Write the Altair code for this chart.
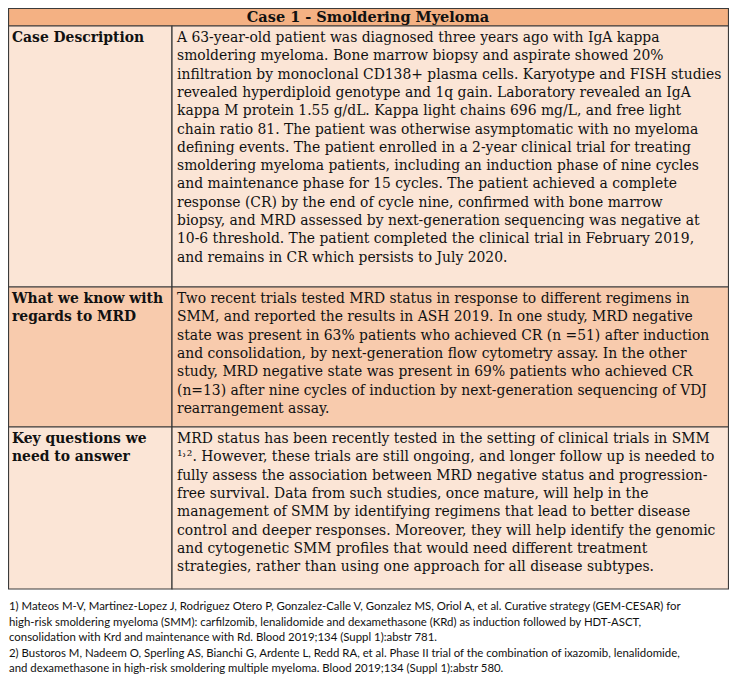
import altair as alt
import pandas as pd

# ---------------- content ----------------
header_title = "Case 1 - Smoldering Myeloma"

row_labels = [
    ["Case Description"],
    ["What we know with", "regards to MRD"],
    ["Key questions we", "need to answer"],
]

row1_lines = [
    "A 63-year-old patient was diagnosed three years ago with IgA kappa",
    "smoldering myeloma. Bone marrow biopsy and aspirate showed 20%",
    "infiltration by monoclonal CD138+ plasma cells. Karyotype and FISH studies",
    "revealed  hyperdiploid genotype and 1q gain. Laboratory revealed an IgA",
    "kappa M protein 1.55 g/dL. Kappa light chains 696 mg/L, and free light",
    "chain ratio 81. The patient was otherwise asymptomatic with no myeloma",
    "defining events. The patient enrolled in a 2-year clinical trial for treating",
    "smoldering myeloma patients, including an induction phase of nine cycles",
    "and maintenance phase for 15 cycles. The patient achieved a complete",
    "response (CR) by the end of cycle nine, confirmed with bone marrow",
    "biopsy, and MRD assessed by next-generation sequencing was negative at",
    "10-6 threshold. The patient completed the clinical trial in February 2019,",
    "and remains in CR which persists to July 2020.",
]

row2_lines = [
    "Two recent trials tested MRD status in response to different regimens in",
    "SMM, and reported the results in ASH 2019. In one study, MRD negative",
    "state was present in 63% patients who achieved CR (n =51) after induction",
    "and consolidation, by next-generation flow cytometry assay. In the other",
    "study, MRD negative state was present in 69% patients who achieved CR",
    "(n=13) after nine cycles of induction by next-generation sequencing of VDJ",
    "rearrangement assay.",
]

row3_lines = [
    "MRD status has been recently tested in the setting of clinical trials in SMM",
    "¹˒². However, these trials are still ongoing, and longer follow up is needed to",
    "fully assess the association between MRD negative status and progression-",
    "free survival. Data from such studies, once mature, will help in the",
    "management of SMM by identifying regimens that lead to better disease",
    "control and deeper responses. Moreover, they will help identify the genomic",
    "and cytogenetic SMM profiles that would need different treatment",
    "strategies, rather than using one approach for all disease subtypes.",
]

footnote_lines = [
    "1) Mateos M-V, Martinez-Lopez J, Rodriguez Otero P, Gonzalez-Calle V, Gonzalez MS, Oriol A, et al. Curative strategy (GEM-CESAR) for",
    "high-risk smoldering myeloma (SMM): carfilzomib, lenalidomide and dexamethasone (KRd) as induction followed by HDT-ASCT,",
    "consolidation with Krd and maintenance with Rd. Blood 2019;134 (Suppl 1):abstr 781.",
    "2) Bustoros M, Nadeem O, Sperling AS, Bianchi G, Ardente L, Redd RA, et al. Phase II trial of the combination of ixazomib, lenalidomide,",
    "and dexamethasone in high-risk smoldering multiple myeloma. Blood 2019;134 (Suppl 1):abstr 580.",
]

# ---------------- layout (page pixel frame) ----------------
X0, XC, X1 = 8.5, 172, 728.5
Y_TOP, Y_HEAD = 8.5, 26
ROW_EDGES = [26, 287, 427, 589]
LINE_H = 18.3
FIRST_OFF = 12
FOOT_Y0, FOOT_H = 607, 15.5

HEAD_FILL = "#F4B183"
ROW_FILLS = ["#FBE5D6", "#F8CBAD", "#FBE5D6"]
BORDER = "#3b3b3b"
INK = "#111111"

# ---------------- tables ----------------
cells = [dict(x=X0, x2=X1, y=Y_TOP, y2=Y_HEAD, fill=HEAD_FILL)]
for i, f in enumerate(ROW_FILLS):
    cells.append(dict(x=X0, x2=XC, y=ROW_EDGES[i], y2=ROW_EDGES[i + 1], fill=f))
    cells.append(dict(x=XC, x2=X1, y=ROW_EDGES[i], y2=ROW_EDGES[i + 1], fill=f))
cells_df = pd.DataFrame(cells)

body_rows = [row1_lines, row2_lines, row3_lines]
body = []
labels = []
for i, lines in enumerate(body_rows):
    top = ROW_EDGES[i] + FIRST_OFF
    for j, t in enumerate(lines):
        body.append(dict(x=177, y=top + j * LINE_H, text=t))
    for j, t in enumerate(row_labels[i]):
        labels.append(dict(x=12, y=top + j * LINE_H, text=t))
body_df = pd.DataFrame(body)
labels_df = pd.DataFrame(labels)
head_df = pd.DataFrame([dict(x=368, y=(Y_TOP + Y_HEAD) / 2 + 0.5, text=header_title)])
foot_df = pd.DataFrame([dict(x=9, y=FOOT_Y0 + k * FOOT_H, text=t) for k, t in enumerate(footnote_lines)])

W, H = 721, 670
xs = alt.Scale(domain=[8, 8 + W], nice=False, zero=False)
ys = alt.Scale(domain=[8, 8 + H], nice=False, zero=False, reverse=True)

rects = alt.Chart(cells_df).mark_rect(stroke=BORDER, strokeWidth=1.2).encode(
    x=alt.X("x:Q", scale=xs, axis=None),
    x2="x2:Q",
    y=alt.Y("y:Q", scale=ys, axis=None),
    y2="y2:Q",
    fill=alt.Fill("fill:N", scale=None),
)

SERIF = "DejaVu Serif"

def text_layer(df, **kw):
    return alt.Chart(df).mark_text(baseline="middle", color=INK, **kw).encode(
        x=alt.X("x:Q", scale=xs, axis=None),
        y=alt.Y("y:Q", scale=ys, axis=None),
        text="text:N",
    )

head = text_layer(head_df, align="center", font=SERIF, fontWeight="bold", fontSize=14.5)
lab = text_layer(labels_df, align="left", font=SERIF, fontWeight="bold", fontSize=13.9)
bod = text_layer(body_df, align="left", font=SERIF, fontSize=13.9)
foot = text_layer(foot_df, align="left", font="Lato", fontSize=11.4)

chart = alt.layer(rects, head, lab, bod, foot).properties(
    width=W, height=H, padding=0, autosize=alt.AutoSizeParams(type="none")
).configure_view(stroke=None)

chart.save("out.html", embed_options={"renderer": "svg", "actions": False})
